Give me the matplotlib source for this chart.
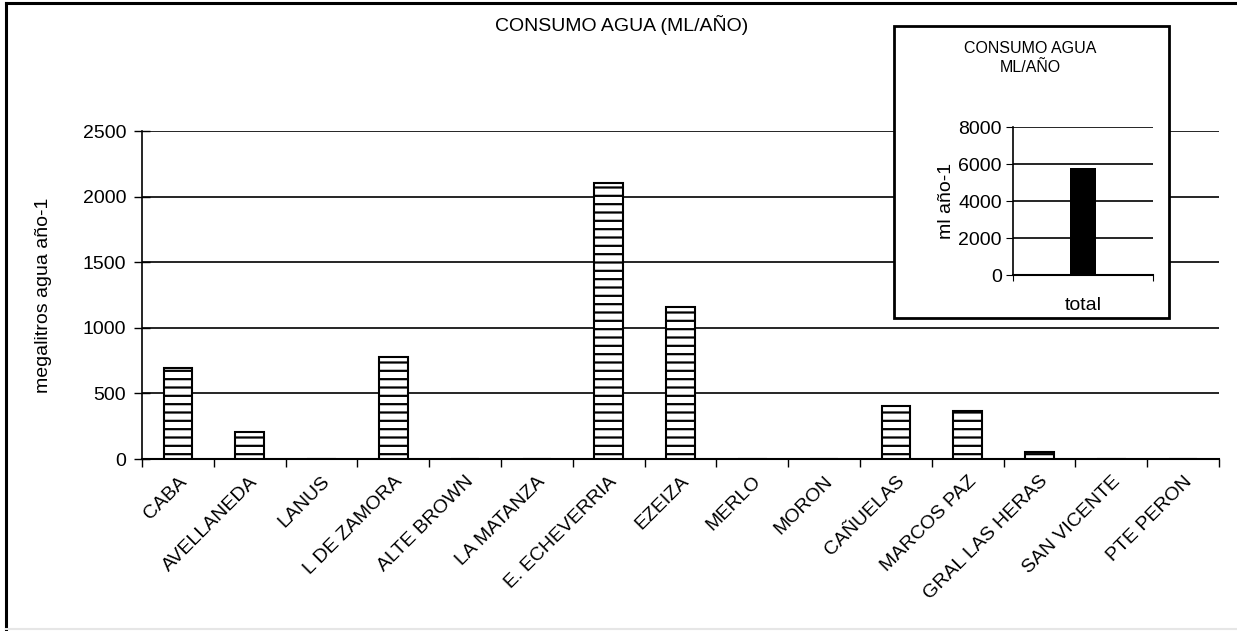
import matplotlib
matplotlib.use("Agg")
import matplotlib.pyplot as plt
from matplotlib.patches import Rectangle
from matplotlib.lines import Line2D

plt.rcParams["font.family"] = ["Liberation Sans", "DejaVu Sans"]
plt.rcParams["hatch.linewidth"] = 1.6

partidos = ["CABA", "AVELLANEDA", "LANUS", "L DE ZAMORA", "ALTE BROWN",
            "LA MATANZA", "E. ECHEVERRIA", "EZEIZA", "MERLO", "MORON",
            "CAÑUELAS", "MARCOS PAZ", "GRAL LAS HERAS", "SAN VICENTE", "PTE PERON"]
consumo = [690, 205, 0, 775, 0, 0, 2100, 1160, 0, 0, 405, 365, 52, 0, 0]
total_label = ["total"]
total_valor = [5800]

W, H = 1237, 631
FS = 14
fig = plt.figure(figsize=(W / 100, H / 100), dpi=100)

# outer frame (left and top dark, bottom light)
fig.add_artist(Line2D([6 / W, 6 / W], [1 - 3 / H, 0], color="black", lw=2.2))
fig.add_artist(Line2D([6 / W, 1], [1 - 3 / H, 1 - 3 / H], color="black", lw=2.2))
fig.add_artist(Line2D([6 / W, 1], [1 - 629 / H, 1 - 629 / H], color="#e6e6e6", lw=1.5))

# main chart
ax = fig.add_axes([142 / W, 1 - 459 / H, (1219 - 142) / W, (459 - 131) / H])
x = range(len(partidos))
ax.bar(x, consumo, width=0.4, color="white", edgecolor="black",
       hatch="--", linewidth=1.5, zorder=3)
ax.set_xlim(-0.5, len(partidos) - 0.5)
ax.set_ylim(0, 2500)
ax.set_yticks([0, 500, 1000, 1500, 2000, 2500])
ax.yaxis.grid(True, color="black", linewidth=1.2, zorder=0)
for s in ["top", "right"]:
    ax.spines[s].set_visible(False)
ax.spines["left"].set_linewidth(1.2)
ax.spines["bottom"].set_linewidth(1.5)
ax.tick_params(axis="y", direction="inout", length=11, width=1, labelsize=FS, pad=6)
ax.set_xticks([i - 0.5 for i in range(len(partidos) + 1)])
ax.set_xticklabels([])
ax.tick_params(axis="x", which="major", direction="out", length=6, width=1)
ax.set_xticks(list(x), minor=True)
ax.set_xticklabels(partidos, minor=True, rotation=45, ha="right",
                   rotation_mode="anchor", fontsize=FS)
ax.tick_params(axis="x", which="minor", length=0, pad=10)
ax.set_ylabel("megalitros agua año-1", fontsize=FS, labelpad=22)
fig.text(622 / W, 1 - 25 / H, "CONSUMO AGUA (ML/AÑO)", ha="center", va="center",
         fontsize=FS)

# inset box
box = Rectangle((894 / W, 1 - 318 / H), (1169 - 894) / W, (318 - 26) / H,
                transform=fig.transFigure, facecolor="white", edgecolor="black",
                linewidth=2, zorder=5)
fig.add_artist(box)

ins = fig.add_axes([1013 / W, 1 - 275 / H, (1153 - 1013) / W, (275 - 127) / H])
ins.set_zorder(6)
ins.bar([0], total_valor, width=0.18, color="black", zorder=3)
ins.set_xlim(-0.5, 0.5)
ins.set_ylim(0, 8000)
ins.set_yticks([0, 2000, 4000, 6000, 8000])
ins.yaxis.grid(True, color="black", linewidth=1.2, zorder=0)
ins.set_xticks([-0.5, 0.5])
ins.set_xticklabels([])
ins.set_xticks([0], minor=True)
ins.set_xticklabels(total_label, minor=True, fontsize=FS)
ins.tick_params(axis="x", which="minor", length=0, pad=16)
ins.tick_params(axis="x", which="major", direction="out", length=4)
ins.tick_params(axis="y", direction="out", length=5, labelsize=FS, pad=3)
for s in ["top", "right"]:
    ins.spines[s].set_visible(False)
ins.spines["left"].set_linewidth(1.2)
ins.spines["bottom"].set_linewidth(1.5)
ins.set_ylabel("ml año-1", fontsize=FS, labelpad=2)
fig.text(1030 / W, 1 - 58 / H, "CONSUMO AGUA\nML/AÑO", ha="center", va="center",
         fontsize=11.5, linespacing=1.4, zorder=7)

fig.savefig("out.png", dpi=100)
